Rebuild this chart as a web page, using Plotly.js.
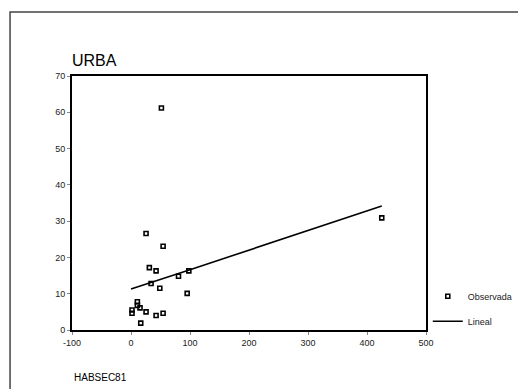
<!DOCTYPE html>
<html>
<head>
<meta charset="utf-8">
<script src="https://cdn.plot.ly/plotly-3.0.1.min.js"></script>
<style>html,body{margin:0;padding:0;background:#fff;}#chart{width:518px;height:389px;}</style>
</head>
<body>
<div id="chart"></div>
<script>
// Observed values (HABSEC81 vs URBA)
const obsX = [51.5, 25.5, 54.4, 31.1, 42.5, 34.0, 48.8, 80.5, 98.0, 95.2, 10.8, 10.8, 15.3, 1.7, 1.7, 25.5, 42.5, 54.4, 16.5, 425.0];
const obsY = [61.2, 26.6, 23.1, 17.2, 16.3, 12.8, 11.5, 14.8, 16.3, 10.1, 7.8, 6.8, 6.1, 5.5, 4.6, 5.0, 4.0, 4.6, 1.9, 30.9];
// Linear fit as drawn
const fitX = [0, 100, 425];
const fitY = [11.3, 16.6, 34.2];
const xTicks = [-100, 0, 100, 200, 300, 400, 500];
const yTicks = [0, 10, 20, 30, 40, 50, 60, 70];

const traces = [
  {x: obsX, y: obsY, mode: 'markers', type: 'scatter', name: 'Observada', legendgroup: 'a',
   marker: {symbol: 'square-open', size: 4, color: '#000', line: {width: 1.6, color: '#000'}}},
  {x: fitX, y: fitY, mode: 'lines', type: 'scatter', name: 'Lineal', legendgroup: 'b',
   line: {color: '#000', width: 1.6}}
];

const layout = {
  width: 518, height: 389,
  margin: {l: 72, r: 92, t: 76, b: 59, autoexpand: false},
  paper_bgcolor: '#fff', plot_bgcolor: '#fff',
  font: {family: 'Liberation Sans, Arial, sans-serif', color: '#222', size: 9},
  title: {text: 'URBA', x: 0, xref: 'paper', xanchor: 'left', y: (389 - 60) / 389, yref: 'container', yanchor: 'middle',
          font: {size: 16, color: '#000'}},
  showlegend: true,
  legend: {x: 1.005, xanchor: 'left', y: 0.19, yanchor: 'top', font: {size: 9, color: '#222'},
           traceorder: 'grouped', tracegroupgap: 6, itemwidth: 30, bgcolor: 'rgba(0,0,0,0)'},
  xaxis: {range: [-100, 500], tickvals: xTicks, ticktext: xTicks.map(String),
          showgrid: false, zeroline: false, showline: true, mirror: true,
          linecolor: '#000', linewidth: 2, ticks: 'outside', ticklen: 3, tickcolor: '#888',
          tickfont: {size: 9, color: '#222'}},
  yaxis: {range: [0, 70], tickvals: yTicks, ticktext: yTicks.map(String),
          showgrid: false, zeroline: false, showline: true, mirror: true,
          linecolor: '#000', linewidth: 2, ticks: 'outside', ticklen: 3, tickcolor: '#888',
          tickfont: {size: 9, color: '#222'}},
  annotations: [
    {text: 'HABSEC81', xref: 'paper', yref: 'paper', x: 0, y: (330 - 377) / 254, xanchor: 'left', yanchor: 'middle',
     showarrow: false, font: {size: 10, color: '#000'}}
  ],
  shapes: [
    {type: 'rect', xref: 'paper', yref: 'paper', x0: -0.175, x1: 1.6, y0: -0.4, y1: 1.252,
     line: {color: '#444', width: 1.5}, fillcolor: 'rgba(0,0,0,0)', layer: 'below'}
  ]
};

Plotly.newPlot('chart', traces, layout, {displayModeBar: false, staticPlot: true});
</script>
</body>
</html>
